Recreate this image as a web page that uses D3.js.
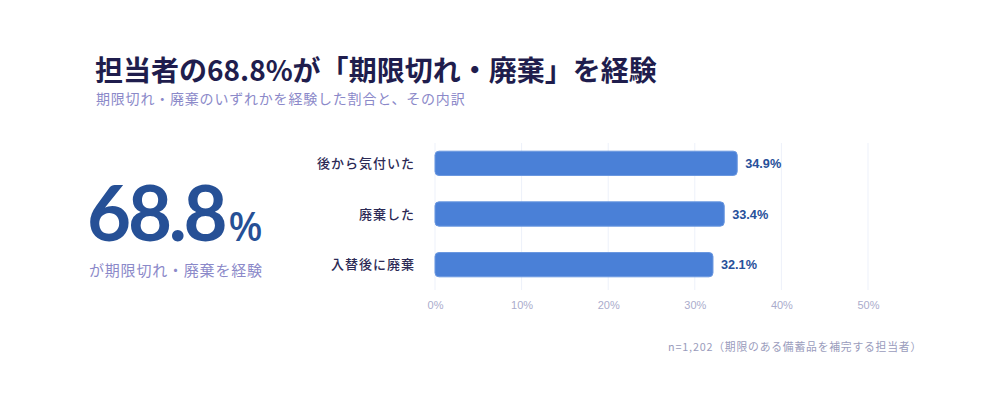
<!DOCTYPE html>
<meta charset="utf-8">
<html>
<head>
<style>
  body { margin: 0; background: #fff; }
</style>
</head>
<body>
<script src="https://d3js.org/d3.v7.js"></script>
<svg width="1000" height="400" font-family="'Noto Sans CJK JP', 'Noto Sans', sans-serif"></svg>
<script>
    // data
    var categories = ["後から気付いた", "廃棄した", "入替後に廃棄"];
    var values = [34.9, 33.4, 32.1];
    var tickValues = [0, 10, 20, 30, 40, 50];
    var headline = "68.8";

    var svg = d3.select("svg");

    // title + subtitle
    svg.append("text")
        .attr("x", 95).attr("y", 81)
        .attr("font-size", "28px").attr("font-weight", 700)
        .attr("fill", "#1f1d4d")
        .text("担当者の68.8%が「期限切れ・廃棄」を経験");
    svg.append("text")
        .attr("x", 96).attr("y", 104)
        .attr("font-size", "14px")
        .attr("fill", "#8b89c9")
        .attr("letter-spacing", "0.8px")
        .text("期限切れ・廃棄のいずれかを経験した割合と、その内訳");

    // big number on the left
    var big = svg.append("text")
        .attr("x", 87).attr("y", 241)
        .attr("fill", "#265096")
        .attr("font-family", "Lato, sans-serif")
        .attr("font-weight", 700);
    big.append("tspan").attr("font-size", "76px").attr("letter-spacing", "-3.2px").text(headline);
    big.append("tspan").attr("font-size", "40px").attr("font-family", "'Noto Sans', sans-serif")
        .attr("font-weight", 500).attr("dx", "4").text("%");

    svg.append("text")
        .attr("x", 89).attr("y", 276)
        .attr("font-size", "15px")
        .attr("fill", "#8b89c9")
        .attr("letter-spacing", "0.8px")
        .text("が期限切れ・廃棄を経験");

    // bar chart
    var x = d3.scaleLinear().domain([0, 50]).range([435, 868]);
    var y = d3.scaleBand().domain(categories).range([138, 290]).paddingInner(0.52).paddingOuter(0.26);

    var g = svg.append("g");

    g.selectAll(".grid")
        .data(tickValues)
        .enter().append("line")
        .attr("x1", function (d) { return x(d); })
        .attr("x2", function (d) { return x(d); })
        .attr("y1", 143).attr("y2", 290)
        .attr("stroke", "#edf1fa")
        .attr("stroke-width", 1);

    var xAxis = g.append("g")
        .attr("transform", "translate(0,298)")
        .call(d3.axisBottom(x).tickValues(tickValues).tickSize(0).tickFormat(function (d) { return d + "%"; }));
    xAxis.select(".domain").remove();
    xAxis.attr("font-family", "'Liberation Sans', Arial, sans-serif")
        .attr("font-size", "11px");
    xAxis.selectAll("text").attr("fill", "#aaaccc");

    var rows = categories.map(function (c, i) { return { cat: c, val: values[i] }; });

    g.selectAll(".bar")
        .data(rows)
        .enter().append("rect")
        .attr("x", x(0))
        .attr("y", function (d) { return y(d.cat); })
        .attr("width", function (d) { return x(d.val) - x(0); })
        .attr("height", y.bandwidth())
        .attr("rx", 4)
        .attr("fill", "#4a80d7")
        .attr("stroke", "#6b98e0")
        .attr("stroke-width", 1);

    g.selectAll(".val")
        .data(rows)
        .enter().append("text")
        .attr("x", function (d) { return x(d.val) + 8; })
        .attr("y", function (d) { return y(d.cat) + y.bandwidth() / 2; })
        .attr("dy", "0.36em")
        .attr("font-family", "'Liberation Sans', Arial, sans-serif")
        .attr("font-weight", 700)
        .attr("font-size", "12.7px")
        .attr("fill", "#27509a")
        .text(function (d) { return d.val.toFixed(1) + "%"; });

    g.selectAll(".cat")
        .data(rows)
        .enter().append("text")
        .attr("x", 415)
        .attr("y", function (d) { return y(d.cat) + y.bandwidth() / 2; })
        .attr("dy", "0.36em")
        .attr("text-anchor", "end")
        .attr("font-size", "13px")
        .attr("font-weight", 500)
        .attr("fill", "#2c2a55")
        .attr("letter-spacing", "1px")
        .text(function (d) { return d.cat; });

    // footnote
    svg.append("text")
        .attr("x", 922).attr("y", 351)
        .attr("text-anchor", "end")
        .attr("font-size", "10.8px")
        .attr("fill", "#9a9cbc")
        .attr("letter-spacing", "0.8px")
        .text("n=1,202（期限のある備蓄品を補完する担当者）");
</script>
</body>
</html>
